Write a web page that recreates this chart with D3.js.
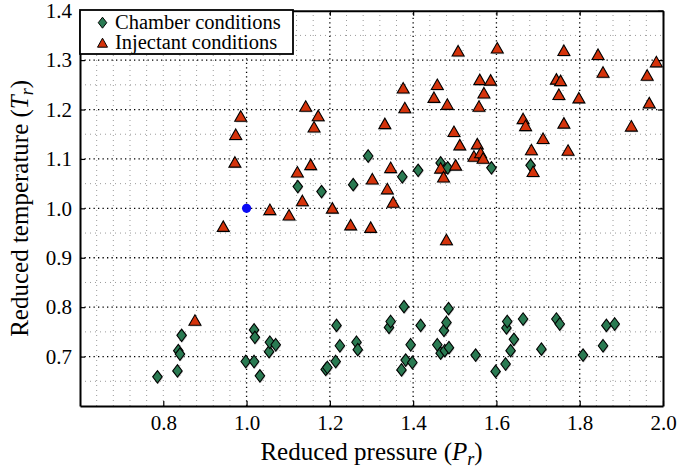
<!DOCTYPE html>
<html>
<head>
<meta charset="utf-8">
<script src="https://cdnjs.cloudflare.com/ajax/libs/d3/7.8.5/d3.min.js"></script>
</head>
<body style="margin:0">
<div id="chart"></div>
<script>
// Reduced pressure / temperature
const chamberP = [0.786, 0.834, 0.836, 0.840, 0.844, 0.998, 1.018, 1.018, 1.020, 1.032,
  1.054, 1.056, 1.070, 1.190, 1.194, 1.214, 1.216, 1.224, 1.264, 1.267,
  1.342, 1.346, 1.378, 1.372, 1.382, 1.394, 1.398, 1.418, 1.458, 1.466,
  1.474, 1.480, 1.485, 1.476, 1.486, 1.550, 1.598, 1.622, 1.624, 1.626,
  1.634, 1.642, 1.664, 1.708, 1.744, 1.752, 1.808, 1.856, 1.864, 1.884,
  1.123, 1.180, 1.256, 1.292, 1.374, 1.412, 1.466, 1.483, 1.588, 1.682];
const chamberT = [0.659, 0.671, 0.712, 0.705, 0.743, 0.690, 0.690, 0.754, 0.739, 0.661,
  0.710, 0.729, 0.724, 0.674, 0.678, 0.690, 0.763, 0.722, 0.729, 0.714,
  0.759, 0.771, 0.801, 0.673, 0.693, 0.724, 0.688, 0.763, 0.724, 0.707,
  0.753, 0.769, 0.797, 0.712, 0.718, 0.703, 0.670, 0.685, 0.758, 0.771,
  0.712, 0.735, 0.776, 0.715, 0.776, 0.766, 0.703, 0.722, 0.763, 0.766,
  1.044, 1.034, 1.048, 1.106, 1.064, 1.077, 1.092, 1.082, 1.082, 1.087];

const injectantP = [0.944, 0.972, 0.974, 0.986, 0.876, 1.056, 1.102, 1.122, 1.134, 1.154,
  1.142, 1.172, 1.162, 1.206, 1.250, 1.298, 1.480, 1.302, 1.346, 1.338,
  1.352, 1.466, 1.473, 1.502, 1.498, 1.512, 1.554, 1.546, 1.562, 1.568,
  1.684, 1.712, 1.772, 1.688, 1.508, 1.602, 1.762, 1.844, 1.984, 1.856,
  1.962, 1.376, 1.458, 1.560, 1.586, 1.450, 1.570, 1.744, 1.754, 1.750,
  1.798, 1.967, 1.380, 1.482, 1.558, 1.332, 1.664, 1.670, 1.762, 1.924];
const injectantT = [0.964, 1.094, 1.150, 1.187, 0.774, 0.998, 0.987, 1.074, 1.016, 1.089,
  1.207, 1.188, 1.165, 1.001, 0.967, 0.962, 0.937, 1.060, 1.083, 1.040,
  1.013, 1.082, 1.064, 1.088, 1.156, 1.129, 1.131, 1.106, 1.113, 1.102,
  1.119, 1.142, 1.118, 1.075, 1.319, 1.325, 1.320, 1.312, 1.297, 1.276,
  1.270, 1.244, 1.251, 1.261, 1.260, 1.225, 1.234, 1.262, 1.259, 1.231,
  1.224, 1.214, 1.204, 1.211, 1.207, 1.172, 1.182, 1.168, 1.173, 1.167];

const criticalPoint = [1.0, 1.0];

const xTicks = [0.8, 1.0, 1.2, 1.4, 1.6, 1.8, 2.0];
const yTicks = [0.7, 0.8, 0.9, 1.0, 1.1, 1.2, 1.3, 1.4];

const legendLabels = ["Chamber conditions", "Injectant conditions"];

const serif = "Times New Roman";
const width = 679, height = 470;
const margin = {left: 80, right: 16, top: 10.7, bottom: 64};

const svg = d3.select("#chart").append("svg")
  .attr("width", width)
  .attr("height", height);

const x = d3.scaleLinear().domain([0.6, 2.0]).range([margin.left, width - margin.right]);
const y = d3.scaleLinear().domain([0.6, 1.4]).range([height - margin.bottom, margin.top]);

const x0 = x.range()[0], x1 = x.range()[1];
const y0 = y.range()[0], y1 = y.range()[1];

// minor grid (grey dotted)
const minorX = d3.range(0, 36).map(i => 0.6 + i * 0.04)
  .filter(v => !xTicks.slice(1).some(t => Math.abs(t - v) < 1e-6) && v > 0.601 && v < 1.999);
const minorY = d3.range(0, 8).map(i => 0.65 + i * 0.1);

const grid = svg.append("g");
grid.selectAll(".mx").data(minorX).enter().append("line")
  .attr("x1", d => x(d)).attr("x2", d => x(d))
  .attr("y1", y0).attr("y2", y1)
  .attr("stroke", "#9a9a9a").attr("stroke-width", 1)
  .attr("stroke-dasharray", "1,4");
grid.selectAll(".my").data(minorY).enter().append("line")
  .attr("y1", d => y(d)).attr("y2", d => y(d))
  .attr("x1", x0).attr("x2", x1)
  .attr("stroke", "#9a9a9a").attr("stroke-width", 1)
  .attr("stroke-dasharray", "1,4");

// major grid (black dotted)
grid.selectAll(".Mx").data(xTicks.filter(t => t > 0.9 && t < 1.99)).enter().append("line")
  .attr("x1", d => x(d)).attr("x2", d => x(d))
  .attr("y1", y0).attr("y2", y1)
  .attr("stroke", "#000").attr("stroke-width", 1.3)
  .attr("stroke-dasharray", "1.3,3.2");
grid.selectAll(".My").data(yTicks.filter(t => t < 1.39)).enter().append("line")
  .attr("y1", d => y(d)).attr("y2", d => y(d))
  .attr("x1", x0).attr("x2", x1)
  .attr("stroke", "#000").attr("stroke-width", 1.3)
  .attr("stroke-dasharray", "1.3,3.2");

// axes with inward ticks
const fmt = d3.format(".1f");
const xAxis = svg.append("g").attr("transform", `translate(0,${y0})`)
  .call(d3.axisBottom(x).tickValues(xTicks).tickFormat(fmt).tickSizeInner(-5).tickSizeOuter(0).tickPadding(9));
const yAxis = svg.append("g").attr("transform", `translate(${x0},0)`)
  .call(d3.axisLeft(y).tickValues(yTicks).tickFormat(fmt).tickSizeInner(-5).tickSizeOuter(0).tickPadding(8));
svg.append("g").attr("transform", `translate(0,${y1})`)
  .call(d3.axisTop(x).tickValues(xTicks).tickFormat("").tickSizeInner(-5).tickSizeOuter(0));
svg.append("g").attr("transform", `translate(${x1},0)`)
  .call(d3.axisRight(y).tickValues(yTicks).tickFormat("").tickSizeInner(-5).tickSizeOuter(0));

svg.selectAll(".domain").attr("stroke", "#000").attr("stroke-width", 2);
svg.selectAll(".tick line").attr("stroke", "#000").attr("stroke-width", 1.2);
xAxis.attr("font-family", serif).attr("font-size", 21);
yAxis.attr("font-family", serif).attr("font-size", 21);

// marker shapes
function trianglePath(cx, cy, w, h) {
  return `M${cx},${cy - h / 2}L${cx + w / 2},${cy + h / 2}L${cx - w / 2},${cy + h / 2}Z`;
}
function diamondPath(cx, cy, w, h) {
  return `M${cx},${cy - h / 2}L${cx + w / 2},${cy}L${cx},${cy + h / 2}L${cx - w / 2},${cy}Z`;
}

const chamber = chamberP.map((p, i) => ({p: p, t: chamberT[i]}));
const injectant = injectantP.map((p, i) => ({p: p, t: injectantT[i]}));

const red = "#d5330b", green = "#2a7a52";

const marks = svg.append("g");
marks.selectAll(".ds").data(chamber).enter().append("path")
  .attr("d", d => diamondPath(x(d.p) + 0.8, y(d.t) + 1.2, 9.5, 12.5))
  .attr("fill", "#aaa").attr("opacity", 0.6);
marks.selectAll(".d").data(chamber).enter().append("path")
  .attr("d", d => diamondPath(x(d.p), y(d.t), 9.5, 12.5))
  .attr("fill", green).attr("stroke", "#000").attr("stroke-width", 1.1);

marks.selectAll(".ts").data(injectant).enter().append("path")
  .attr("d", d => trianglePath(x(d.p) + 0.8, y(d.t) + 1.2, 12, 10.5))
  .attr("fill", "#aaa").attr("opacity", 0.6);
marks.selectAll(".t").data(injectant).enter().append("path")
  .attr("d", d => trianglePath(x(d.p), y(d.t), 12, 10.5))
  .attr("fill", red).attr("stroke", "#000").attr("stroke-width", 1.1);

marks.append("circle")
  .attr("cx", x(criticalPoint[0])).attr("cy", y(criticalPoint[1]))
  .attr("r", 4.6).attr("fill", "#0a0af5");

// legend
const lg = svg.append("g");
lg.append("rect")
  .attr("x", x0).attr("y", y1 - 0.7)
  .attr("width", 213).attr("height", 44)
  .attr("fill", "#fff").attr("stroke", "#000").attr("stroke-width", 1.8);
lg.append("path").attr("d", diamondPath(x0 + 22.5, y1 + 12, 8.5, 11))
  .attr("fill", green).attr("stroke", "#000").attr("stroke-width", 1);
lg.append("path").attr("d", trianglePath(x0 + 22.5, y1 + 32, 10, 9))
  .attr("fill", red).attr("stroke", "#000").attr("stroke-width", 1);
lg.selectAll(".lt").data(legendLabels).enter().append("text")
  .attr("x", x0 + 35)
  .attr("y", (d, i) => y1 + 18 + i * 20)
  .attr("font-family", serif)
  .attr("font-size", 20.5)
  .text(d => d);

// axis labels
const xl = svg.append("text")
  .attr("x", (x0 + x1) / 2).attr("y", 460)
  .attr("text-anchor", "middle")
  .attr("font-family", serif).attr("font-size", 25);
xl.append("tspan").text("Reduced pressure (");
xl.append("tspan").attr("font-style", "italic").text("P");
xl.append("tspan").attr("font-style", "italic").attr("font-size", 18).attr("dy", 5).text("r");
xl.append("tspan").attr("dy", -5).text(")");

const yl = svg.append("text")
  .attr("transform", `translate(28,${(y0 + y1) / 2}) rotate(-90)`)
  .attr("text-anchor", "middle")
  .attr("font-family", serif).attr("font-size", 25);
yl.append("tspan").text("Reduced temperature (");
yl.append("tspan").attr("font-style", "italic").text("T");
yl.append("tspan").attr("font-style", "italic").attr("font-size", 18).attr("dy", 5).text("r");
yl.append("tspan").attr("dy", -5).text(")");
</script>
</body>
</html>
